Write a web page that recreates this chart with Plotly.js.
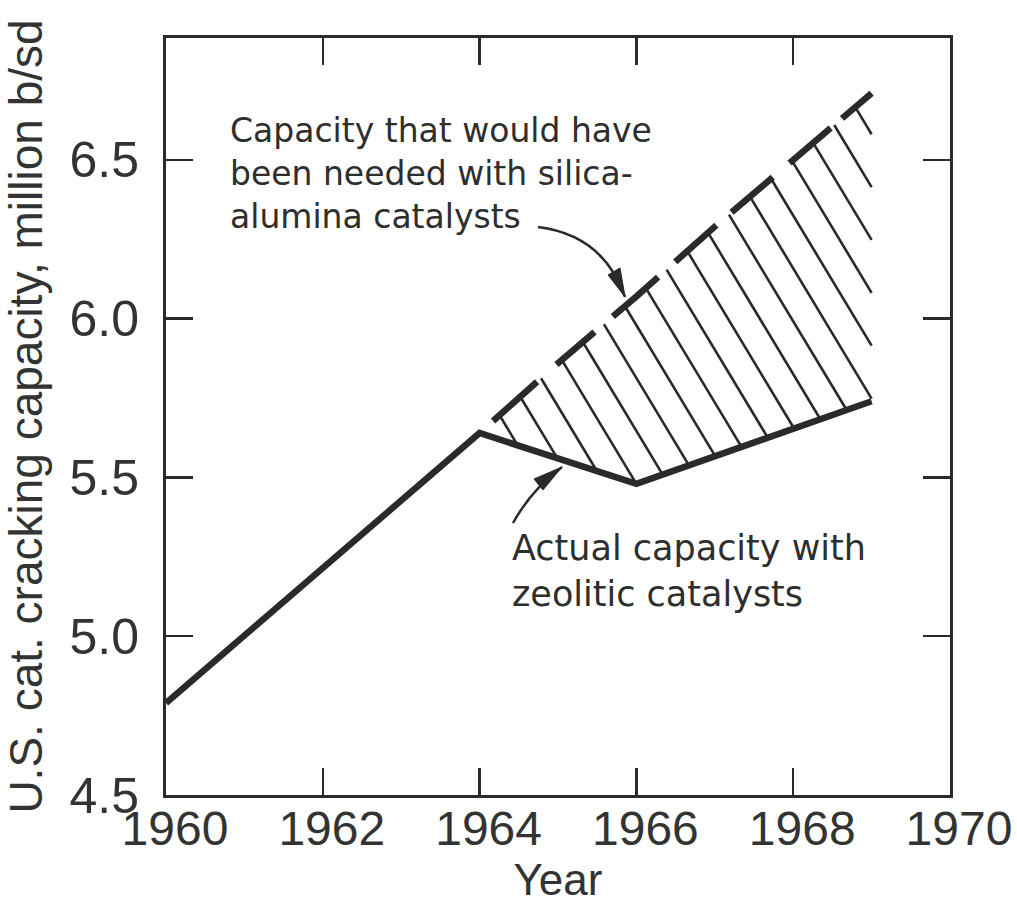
<!DOCTYPE html>
<html><head><meta charset="utf-8">
<script src="https://cdn.plot.ly/plotly-3.0.1.min.js"></script>
<style>html,body{margin:0;padding:0;background:#fff;}</style>
</head><body>
<div id="chart" style="width:1017px;height:912px;"></div>
<script>
// ---- data ----
const actualYears = [1960, 1964, 1966, 1969];
const actualCapacity = [4.79, 5.64, 5.48, 5.74];
const neededYears = [1964, 1965, 1966, 1967, 1968, 1969];
const neededCapacity = [5.64, 5.86, 6.07, 6.29, 6.50, 6.71];
const xTickVals = [1960, 1962, 1964, 1966, 1968, 1970];
const xTickText = ['1960', '1962', '1964', '1966', '1968', '1970'];
const yTickVals = [4.5, 5.0, 5.5, 6.0, 6.5];
const yTickText = ['4.5', '5.0', '5.5', '6.0', '6.5'];
const upperLabel = 'Capacity that would have<br>been needed with silica-<br>alumina catalysts';
const lowerLabel = 'Actual capacity with<br>zeolitic catalysts';
const xTitle = 'Year';
const yTitle = 'U.S. cat. cracking capacity, million b/sd';

// ---- hatching style (slant and spacing of the shading lines) ----
const HATCH_SLOPE = 0.41;   // capacity units per year
const HATCH_STEP = 0.1665;
const INK = '#2a2a2a';

function interp(xs, ys, x) {
  for (let i = 0; i < xs.length - 1; i++) {
    if (x >= xs[i] && x <= xs[i + 1]) {
      const t = (x - xs[i]) / (xs[i + 1] - xs[i]);
      return ys[i] + t * (ys[i + 1] - ys[i]);
    }
  }
  return null;
}
function solveC(xs, ys, c, x0) {
  for (let i = 0; i < xs.length - 1; i++) {
    const ca = ys[i] + HATCH_SLOPE * (xs[i] - x0);
    const cb = ys[i + 1] + HATCH_SLOPE * (xs[i + 1] - x0);
    if (c >= ca && c <= cb) {
      const t = (c - ca) / (cb - ca);
      return xs[i] + t * (xs[i + 1] - xs[i]);
    }
  }
  return null;
}

const x0 = neededYears[0];
const xEnd = neededYears[neededYears.length - 1];
const startIdx = actualYears.indexOf(x0);
const lowX = actualYears.slice(startIdx);
const lowY = actualCapacity.slice(startIdx);
const cUpStart = neededCapacity[0];
const cUpEnd = neededCapacity[neededCapacity.length - 1] + HATCH_SLOPE * (xEnd - x0);
const vIdx = lowY.indexOf(Math.min(...lowY));
let c = lowY[vIdx] + HATCH_SLOPE * (lowX[vIdx] - x0);
while (c - HATCH_STEP > cUpStart) c -= HATCH_STEP;

const hx = [], hy = [];
for (; c < cUpEnd; c += HATCH_STEP) {
  const xu = solveC(neededYears, neededCapacity, c, x0);
  if (xu === null) continue;
  const yu = interp(neededYears, neededCapacity, xu);
  let xl = solveC(lowX, lowY, c, x0), yl;
  if (xl === null) { xl = xEnd; yl = c - HATCH_SLOPE * (xEnd - x0); }
  else yl = interp(lowX, lowY, xl);
  hx.push(xu, xl, null); hy.push(yu, yl, null);
}

const traces = [
  { x: hx, y: hy, type: 'scatter', mode: 'lines', line: { color: INK, width: 2.6 },
    hoverinfo: 'skip', showlegend: false },
  { x: actualYears, y: actualCapacity, type: 'scatter', mode: 'lines',
    line: { color: INK, width: 6.5 }, showlegend: false },
  { x: neededYears, y: neededCapacity, type: 'scatter', mode: 'lines',
    line: { color: INK, width: 6.5, dash: '0px,18px,59px,26px,50px,24px,60px,23px,55px,20px,54px,22px,54px,15px,60px,100px' },
    showlegend: false }
];

const axisCommon = {
  showgrid: false, zeroline: false, showline: true, linecolor: INK, linewidth: 3,
  mirror: 'ticks', ticks: 'inside', ticklen: 27, tickwidth: 2.5, tickcolor: INK,
  tickmode: 'array', tickfont: { family: 'Liberation Sans', size: 48, color: '#333' }
};

const layout = {
  width: 1017, height: 912,
  margin: { l: 166, r: 67, t: 38, b: 117 },
  paper_bgcolor: '#fff', plot_bgcolor: '#fff',
  showlegend: false,
  xaxis: Object.assign({}, axisCommon, {
    range: [1960, 1970], tickvals: xTickVals, ticktext: xTickText,
    ticklabelshift: 9, ticklabelstandoff: -11,
    title: { text: xTitle, font: { family: 'Liberation Sans', size: 44, color: '#333' }, standoff: 11 }
  }),
  yaxis: Object.assign({}, axisCommon, {
    range: [4.5, 6.884], tickvals: yTickVals, ticktext: yTickText,
    ticklabelstandoff: 14, tickfont: { family: 'Liberation Sans', size: 50, color: '#333' },
    title: { text: yTitle, font: { family: 'Liberation Sans', size: 46, color: '#333' }, standoff: 22 }
  }),
  annotations: [
    { x: 1960.79, y: 6.456, xref: 'x', yref: 'y', text: upperLabel, showarrow: false,
      xanchor: 'left', yanchor: 'middle', align: 'left',
      font: { family: 'DejaVu Sans', size: 33, color: '#2e2e2e' } },
    { x: 1964.39, y: 5.205, xref: 'x', yref: 'y', text: lowerLabel, showarrow: false,
      xanchor: 'left', yanchor: 'middle', align: 'left',
      font: { family: 'DejaVu Sans', size: 35, color: '#2e2e2e' } }
  ],
  shapes: [
    { type: 'path', xref: 'x', yref: 'y', xsizemode: 'pixel', ysizemode: 'pixel',
      xanchor: 1965.855, yanchor: 6.0685, path: 'M -87,70 Q -22,62 0,0',
      line: { color: INK, width: 2.5 } },
    { type: 'path', xref: 'x', yref: 'y', xsizemode: 'pixel', ysizemode: 'pixel',
      xanchor: 1965.855, yanchor: 6.0685, path: 'M 0,0 L -17,22 L -5,29 Z',
      fillcolor: INK, line: { color: INK, width: 1 } },
    { type: 'path', xref: 'x', yref: 'y', xsizemode: 'pixel', ysizemode: 'pixel',
      xanchor: 1965.051, yanchor: 5.533, path: 'M -49,-56 Q -30,-22 0,0',
      line: { color: INK, width: 2.5 } },
    { type: 'path', xref: 'x', yref: 'y', xsizemode: 'pixel', ysizemode: 'pixel',
      xanchor: 1965.051, yanchor: 5.533, path: 'M 0,0 L -28,-12 L -19,-23 Z',
      fillcolor: INK, line: { color: INK, width: 1 } }
  ]
};

Plotly.newPlot('chart', traces, layout, { displayModeBar: false, staticPlot: true });
</script>
</body></html>
